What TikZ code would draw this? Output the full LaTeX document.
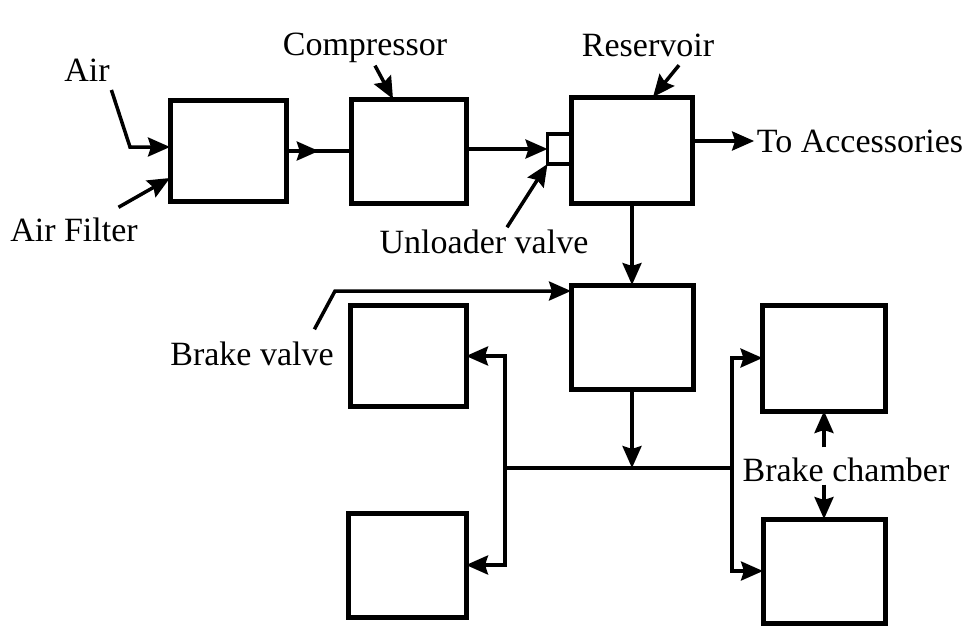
\documentclass[tikz,border=0pt]{standalone}
\usepackage{fontspec}
\setmainfont{Liberation Serif}
\usetikzlibrary{arrows.meta, decorations.markings, positioning}

\begin{document}
\begin{tikzpicture}[x=1pt, y=-1pt, line width=3.5pt,
    blk/.style={draw, line width=5pt, inner sep=0pt, outer sep=0pt,
        minimum width=118pt, minimum height=104pt},
    arr/.style={-{Stealth[length=22pt, width=19pt, inset=3pt]}},
    midarr/.style={postaction={decorate}, decoration={markings,
        mark=at position 0.5 with {\arrow{Stealth[length=22pt, width=19pt, inset=3pt]}}}},
    lbl/.style={font=\fontsize{34}{40}\selectfont, inner sep=1pt}]
\useasboundingbox (0,0) rectangle (968,625);

% blocks
\node[blk, minimum width=116pt, minimum height=101pt] (filter) at (228,151) {};
\node[blk, minimum width=115pt] (comp) at (409,151) {};
\node[blk, minimum width=121pt, minimum height=106pt] (res) at (632,150) {};
\node[draw, line width=3.5pt, inner sep=0pt, outer sep=0pt, minimum width=24pt,
    minimum height=30pt, anchor=east] (unld) at (res.west |- 0,149) {};
\node[blk, minimum width=122pt] (brake) at (632,337) {};
\node[blk, minimum width=116pt, minimum height=101pt] (wfl) at (408,356) {};
\node[blk] (wrl) at (407,565) {};
\node[blk, minimum width=123pt, minimum height=106pt] (chf) at (824,358) {};
\node[blk, minimum width=122pt] (chr) at (824,571) {};

% labels
\node[lbl] (air) at (87,70) {Air};
\node[lbl] (airf) at (74,230) {Air Filter};
\node[lbl] (compl) at (365,48) {Compressor};
\node[lbl] (resl) at (648,45) {Reservoir};
\node[lbl] (unl) at (484,242) {Unloader valve};
\node[lbl] (acc) at (860,141) {To Accessories};
\node[lbl] (bvl) at (252,354) {Brake valve};
\node[lbl] (bcl) at (846,470) {Brake chamber};

\coordinate (jl) at (505,468);
\coordinate (jr) at (732,468);
\coordinate (jn) at (brake.south |- jl);

% air supply
\draw[arr] ([shift={(-1,6)}]air.south east) -- (130,147) -- (filter.west |- 0,147);
\draw[arr] ([shift={(-22,-8)}]airf.north east) -- (filter.west |- 0,178);
\draw[midarr] (filter) -- (comp);
\draw[arr] (comp.east |- unld.west) -- (unld.west);
\draw[arr] ([xshift=23pt]unl.north) -- (unld.south west);
\draw[arr] ([xshift=10pt]compl.south) -- ([xshift=-16pt]comp.north);
\draw[arr] ([shift={(31,6)}]resl.south) -- ([xshift=21pt]res.north);
\draw[arr] (res.east |- acc) -- (acc.west);
\draw[arr] (res) -- (brake);

% brake line
\draw[arr] ([shift={(-22,-10)}]bvl.north east) -- (335,291) -- (brake.west |- 0,291);
\draw[arr] (brake) -- (jn);
\draw (jl) -- (jr);
\draw[arr] (jl) -- (jl |- wfl.east) -- (wfl.east);
\draw[arr] (jl) -- (jl |- wrl.east) -- (wrl.east);
\draw[arr] (jr) -- (jr |- chf.west) -- (chf.west);
\draw[arr] (jr) -- (jr |- chr.west) -- (chr.west);
\draw[arr] ([yshift=8pt]chf.south |- bcl.north) -- (chf.south);
\draw[arr] (chr.north |- bcl.south) -- (chr.north);
\end{tikzpicture}
\end{document}
